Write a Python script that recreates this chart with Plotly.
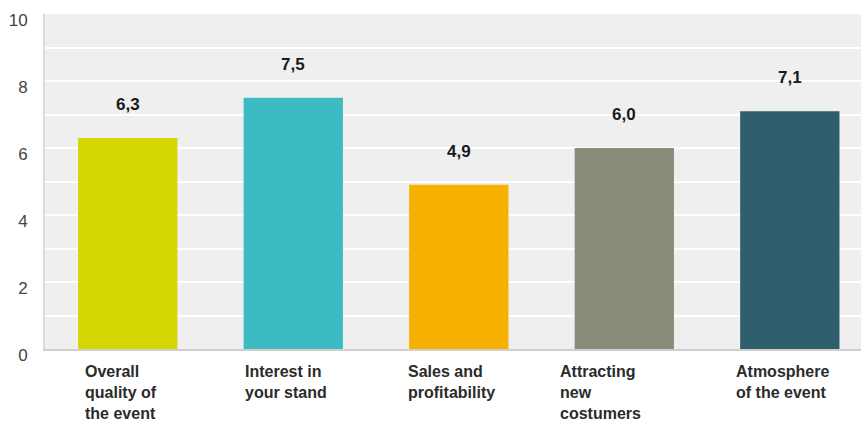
import plotly.graph_objects as go

# Average ratings per aspect of the event (scale 0-10)
categories = [
    "Overall<br>quality of<br>the event",
    "Interest in<br>your stand",
    "Sales and<br>profitability",
    "Attracting<br>new<br>costumers",
    "Atmosphere<br>of the event",
]
scores = [6.3, 7.5, 4.9, 6.0, 7.1]
bar_colors = ["#d3d600", "#3dbbc2", "#f5b000", "#8a8b78", "#2f5e6d"]
y_ticks = [0, 2, 4, 6, 8, 10]

FONT = "Liberation Sans, Arial, sans-serif"
positions = list(range(len(categories)))

fig = go.Figure(
    go.Bar(
        x=positions,
        y=scores,
        width=0.6,
        marker=dict(color=bar_colors, line=dict(width=0)),
        hoverinfo="skip",
    )
)

# value labels above the bars, decimal comma
for i, v in zip(positions, scores):
    fig.add_annotation(
        x=i, y=v, xref="x", yref="y",
        text=f"<b>{v:.1f}</b>".replace(".", ","),
        showarrow=False, yanchor="bottom", yshift=22,
        font=dict(family=FONT, size=17, color="#1a1a1a"),
    )

# category labels: left-aligned blocks under each bar
label_nudge = {3: -24}
for i, label in zip(positions, categories):
    fig.add_annotation(
        x=i, y=0, xref="x", yref="paper",
        text=f"<b>{label}</b>",
        showarrow=False, xanchor="center", yanchor="top", align="left",
        yshift=-12, xshift=label_nudge.get(i, -7),
        font=dict(family=FONT, size=16, color="#2b2b2b"),
    )

fig.update_layout(
    width=861, height=426,
    margin=dict(l=45, r=0, t=14, b=77),
    paper_bgcolor="white",
    plot_bgcolor="#efefef",
    showlegend=False,
    bargap=0.4,
)
fig.update_xaxes(
    range=[-0.5, 4.43],
    showticklabels=False, ticks="",
    showgrid=False, zeroline=False,
    showline=True, linecolor="#cfcfcf", linewidth=2,
    fixedrange=True,
)
fig.update_yaxes(
    range=[0, 10],
    tickvals=y_ticks,
    ticktext=[str(t) for t in y_ticks],
    tickfont=dict(family=FONT, size=17, color="#444444"),
    ticks="", ticklabelstandoff=12, ticklabelshift=6,
    showgrid=True, gridcolor="white", gridwidth=2,
    minor=dict(dtick=1, showgrid=True, gridcolor="white", gridwidth=2),
    zeroline=False,
    showline=True, linecolor="#dadada", linewidth=2,
    fixedrange=True,
)

fig.write_html("out.html")
